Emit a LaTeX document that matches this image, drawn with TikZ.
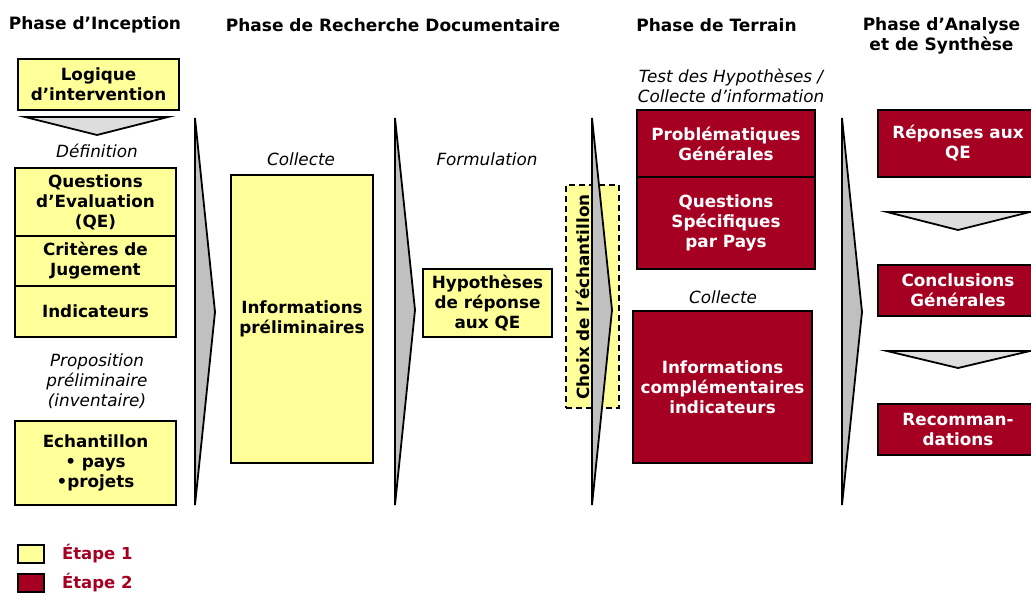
\documentclass[tikz,border=0pt]{standalone}
\usepackage{fontspec}
\setmainfont{DejaVu Sans}
\definecolor{ylw}{HTML}{FFFF99}
\definecolor{mrn}{HTML}{A50021}
\definecolor{chev}{HTML}{DDDDDD}
\definecolor{arrg}{HTML}{C0C0C0}
\begin{document}
\begin{tikzpicture}[x=1pt,y=-1pt,
  every node/.style={inner sep=0pt, outer sep=0pt, font=\fontsize{16.8}{20}\selectfont},
  ybox/.style={draw=black, line width=2pt, fill=ylw, align=center, font=\fontsize{16.8}{20}\selectfont\bfseries},
  rbox/.style={draw=black, line width=2pt, fill=mrn, text=white, align=center, font=\fontsize{16.8}{20}\selectfont\bfseries},
  title/.style={align=center, font=\fontsize{17}{20}\selectfont\bfseries},
  lab/.style={align=center, font=\fontsize{16.8}{20}\selectfont\itshape},
  chevron/.style={draw=black, line width=1.8pt, fill=chev, line join=miter},
  bigarrow/.style={draw=black, line width=1.8pt, fill=arrg, line join=miter},
  legtxt/.style={anchor=west, text=mrn, font=\fontsize{16.5}{20}\selectfont\bfseries}
]
\useasboundingbox (0,0) rectangle (1031,592);
\clip (0,0) rectangle (1031,592);

% titles
\node[title] (t1) at (95,25) {Phase d’Inception};
\node[title] (t2) at (393,25) {Phase de Recherche Documentaire};
\node[title] (t3) at (716.5,25) {Phase de Terrain};
\node[title] (t4) at (941.5,36) {Phase d’Analyse\\et de Synthèse};

% Inception column
\node[ybox, minimum width=161pt, minimum height=51pt] (logique) at (98.5,84.5) {Logique\\d’intervention};
\coordinate (c1l) at (25,117); \coordinate (c1r) at (168,117); \coordinate (c1p) at (97,135);
\draw[chevron] (c1l) -- (c1r) -- (c1p) -- cycle;
\node[lab] (def) at (97,151) {Définition};
\node[ybox, minimum width=161pt, minimum height=68pt] (qe) at (95.5,202) {Questions\\d’Evaluation\\(QE)};
\node[ybox, minimum width=161pt, minimum height=50pt] (crit) at (95.5,261) {Critères de\\Jugement};
\node[ybox, minimum width=161pt, minimum height=51pt] (ind) at (95.5,311.5) {Indicateurs};
\node[lab] (prop) at (97,381) {Proposition\\préliminaire\\(inventaire)};
\node[ybox, minimum width=161pt, minimum height=84pt] (ech) at (95.5,463) {Echantillon\\• pays\\•projets};

% arrow 1
\coordinate (a1t) at (195,118); \coordinate (a1p) at (215,312); \coordinate (a1b) at (195,505);
\draw[bigarrow] (a1t) -- (a1p) -- (a1b) -- cycle;

% Recherche documentaire
\node[lab] (coll1) at (301,159) {Collecte};
\node[ybox, minimum width=142pt, minimum height=288pt] (infoprel) at (302,319) {Informations\\préliminaires};
\coordinate (a2t) at (395,118); \coordinate (a2p) at (415,310); \coordinate (a2b) at (395,505);
\draw[bigarrow] (a2t) -- (a2p) -- (a2b) -- cycle;
\node[lab] (form) at (487,159) {Formulation};
\node[ybox, minimum width=129pt, minimum height=68pt] (hyp) at (487.5,303) {Hypothèses\\de réponse\\aux QE};

% choix de l'echantillon
\node[draw=black, dash pattern=on 6pt off 4pt, line width=1.8pt, fill=ylw, minimum width=53pt, minimum height=223pt] (choixbox) at (592.5,296.5) {};
\node[rotate=90, font=\fontsize{16.8}{20}\selectfont\bfseries] (choix) at (583,297) {Choix de l'échantillon};
\coordinate (a3t) at (592,118); \coordinate (a3p) at (612,310); \coordinate (a3b) at (592,505);
\draw[bigarrow] (a3t) -- (a3p) -- (a3b) -- cycle;

% Terrain
\node[lab] (test) at (731,85.5) {Test des Hypothèses /\\Collecte d’information};
\node[rbox, minimum width=178pt, minimum height=67pt] (prob) at (726,143.5) {Problématiques\\Générales};
\node[rbox, minimum width=178pt, minimum height=92pt] (qsp) at (726,223) {Questions\\Spécifiques\\par Pays};
\node[lab] (coll2) at (723,297) {Collecte};
\node[rbox, minimum width=179pt, minimum height=152pt] (infocomp) at (722.5,387) {Informations\\complémentaires\\indicateurs};
\coordinate (a4t) at (842,118); \coordinate (a4p) at (862,312); \coordinate (a4b) at (842,505);
\draw[bigarrow] (a4t) -- (a4p) -- (a4b) -- cycle;

% Analyse
\node[rbox, minimum width=160pt, minimum height=67pt] (rep) at (958,143.5) {Réponses aux\\QE};
\coordinate (c2l) at (887,212); \coordinate (c2r) at (1030,212); \coordinate (c2p) at (958,230);
\draw[chevron] (c2l) -- (c2r) -- (c2p) -- cycle;
\node[rbox, minimum width=160pt, minimum height=51pt] (concl) at (958,290.5) {Conclusions\\Générales};
\coordinate (c3l) at (887,351); \coordinate (c3r) at (1030,351); \coordinate (c3p) at (958,368);
\draw[chevron] (c3l) -- (c3r) -- (c3p) -- cycle;
\node[rbox, minimum width=160pt, minimum height=51pt] (recom) at (958,429.5) {Recomman-\\dations};

% legend
\node[draw=black, line width=2pt, fill=ylw, minimum width=26pt, minimum height=18pt] (leg1) at (30.5,553.5) {};
\node[legtxt] (leg1t) at (62,553.5) {Étape 1};
\node[draw=black, line width=2pt, fill=mrn, minimum width=26pt, minimum height=18pt] (leg2) at (30.5,582.5) {};
\node[legtxt] (leg2t) at (62,582.5) {Étape 2};
\end{tikzpicture}
\end{document}
